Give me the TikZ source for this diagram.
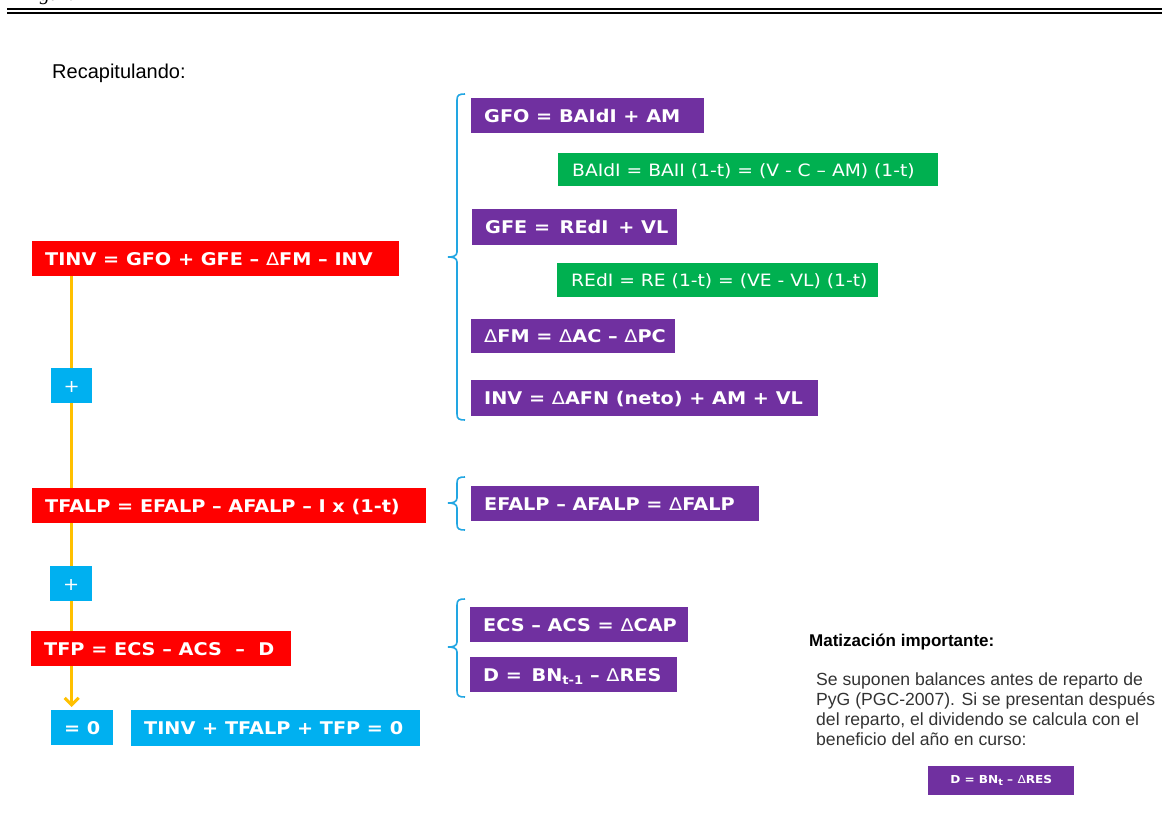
\documentclass[tikz,border=0pt]{standalone}
\usepackage{fontspec}
\usetikzlibrary{arrows.meta,backgrounds}
\newfontfamily\vf[FakeStretch=1.1]{DejaVu Sans}
\newfontfamily\af{Liberation Sans}
\newfontfamily\tf{Liberation Serif}
\definecolor{myred}{HTML}{FF0000}
\definecolor{mypurple}{HTML}{7030A0}
\definecolor{mygreen}{HTML}{00B050}
\definecolor{mycyan}{HTML}{00B0F0}
\definecolor{myyellow}{HTML}{FFC000}
\definecolor{mybrace}{HTML}{22A6E2}
\definecolor{mygray}{HTML}{333333}
\newcommand\bx[2]{\makebox[#1][l]{#2}}
\newcommand\Dl{{\mdseries Δ}}
\newcommand\lowsub[1]{\raisebox{-0.4ex}{\fontsize{12}{12}\selectfont #1}}
\newcommand\mybrace[4]{%
  \draw[bracel] ({#1+8},#2) .. controls ({#1+2},#2) and (#1,{#2+1}) .. (#1,{#2+6})
    -- (#1,{#3-5}) .. controls (#1,{#3-1}) and ({#1-4},#3) .. ({#1-9},#3)
    .. controls ({#1-4},#3) and (#1,{#3+1}) .. (#1,{#3+5})
    -- (#1,{#4-6}) .. controls (#1,{#4-1}) and ({#1+2},#4) .. ({#1+8},#4);}
\tikzset{
  boxbase/.style={anchor=north west, text=white, inner xsep=13pt, inner ysep=0pt,
    text height=12.7pt, text depth=0pt},
  redb/.style={boxbase, fill=myred, font=\vf\bfseries\fontsize{17.5}{20}\selectfont},
  purb/.style={boxbase, fill=mypurple, font=\vf\bfseries\fontsize{17.5}{20}\selectfont},
  greb/.style={boxbase, fill=mygreen, inner xsep=14pt, font=\vf\fontsize{17}{20}\selectfont},
  cyab/.style={boxbase, fill=mycyan, font=\vf\bfseries\fontsize{17.5}{20}\selectfont},
  bracel/.style={draw=mybrace, line width=1.6pt},
  yl/.style={draw=myyellow, line width=3pt},
}
\begin{document}
\begin{tikzpicture}[x=1pt,y=-1pt]
\useasboundingbox (0,0) rectangle (1162,832);
% header rules
\node[anchor=base west, inner sep=0pt, font=\tf\itshape\fontsize{20}{20}\selectfont] (fig) at (22,1) {Figura};
\draw[line width=1.8pt] (7,8.8) -- (1162,8.8);
\draw[line width=2pt] (7,12.7) -- (1162,12.7);
\node[anchor=base west, inner sep=0pt, font=\af\fontsize{20}{24}\selectfont] (recap) at (52,79) {Recapitulando:};
% left column
\node[redb, minimum width=367pt, minimum height=35pt] (tinv) at (32,241) {\bx{341pt}{TINV = GFO + GFE – \Dl FM – INV}};
\node[cyab, minimum width=41pt, minimum height=35pt, inner xsep=0pt] (plus1) at (51,368) {\mdseries +};
\node[redb, minimum width=394pt, minimum height=35pt] (tfalp) at (32,488) {\bx{368pt}{TFALP = EFALP – AFALP – I x (1-t)}};
\node[cyab, minimum width=42pt, minimum height=35pt, inner xsep=0pt] (plus2) at (50,566) {\mdseries +};
\node[redb, minimum width=260pt, minimum height=35pt] (tfp) at (31,631) {\bx{234pt}{TFP = ECS – ACS \ – \ D}};
\node[cyab, minimum width=62pt, minimum height=35pt, inner xsep=0pt] (eq0) at (51,710) {= 0};
\node[cyab, minimum width=289pt, minimum height=36pt] (sum) at (131,710) {\bx{263pt}{TINV + TFALP + TFP = 0}};
\begin{scope}[on background layer]
\draw[yl, -{Straight Barb[length=7pt,width=14pt]}, shorten >=3pt] (plus1.center |- tinv.south) -- (plus1.center |- eq0.north);
\end{scope}
% right column group 1
\node[purb, minimum width=233pt, minimum height=35pt] (gfo) at (471,98) {\bx{207pt}{GFO = BAIdI + AM}};
\node[greb, minimum width=380pt, minimum height=33pt] (baidi) at (558,153) {\bx{352pt}{BAIdI = BAII (1-t) = (V - C – AM) (1-t)}};
\node[purb, minimum width=205pt, minimum height=36pt] (gfe) at (472,209) {\bx{179pt}{GFE = \,REdI \,+ VL}};
\node[greb, minimum width=321pt, minimum height=34pt] (redi) at (557,263) {\bx{293pt}{REdI = RE (1-t) = (VE - VL) (1-t)}};
\node[purb, minimum width=204pt, minimum height=34pt] (dfm) at (471,319) {\bx{178pt}{\Dl FM = \Dl AC – \Dl PC}};
\node[purb, minimum width=347pt, minimum height=36pt] (inv) at (471,380) {\bx{321pt}{INV = \Dl AFN (neto) + AM + VL}};
\mybrace{457}{94}{257}{420}
% group 2
\node[purb, minimum width=288pt, minimum height=35pt] (efalp) at (471,486) {\bx{262pt}{EFALP – AFALP = \Dl FALP}};
\mybrace{457}{477}{503}{530}
% group 3
\node[purb, minimum width=218pt, minimum height=35pt] (ecs) at (470,607) {\bx{192pt}{ECS – ACS = \Dl CAP}};
\node[purb, minimum width=207pt, minimum height=35pt] (dd) at (470,657) {\bx{181pt}{D = \,BN\lowsub{t-1} – \Dl RES}};
\mybrace{457}{599}{647}{697}
% note
\node[anchor=base west, inner sep=0pt, font=\af\bfseries\fontsize{17}{20}\selectfont] (mat) at (809,646) {Matización importante:};
\node[anchor=base west, inner sep=0pt, align=left, text=mygray, font=\af\fontsize{17.6}{20}\selectfont] (para) at (816,745)
  {Se suponen balances antes de reparto de\\PyG (PGC-2007). Si se presentan después\\del reparto, el dividendo se calcula con el\\beneficio del año en curso:};
\node[anchor=north west, fill=mypurple, text=white, minimum width=146pt, minimum height=29pt, inner sep=0pt,
  font=\vf\bfseries\fontsize{11}{13}\selectfont] (dbox) at (928,766) {D = BN\raisebox{-0.3ex}{\fontsize{9}{9}\selectfont t} – \Dl RES};
\end{tikzpicture}
\end{document}
